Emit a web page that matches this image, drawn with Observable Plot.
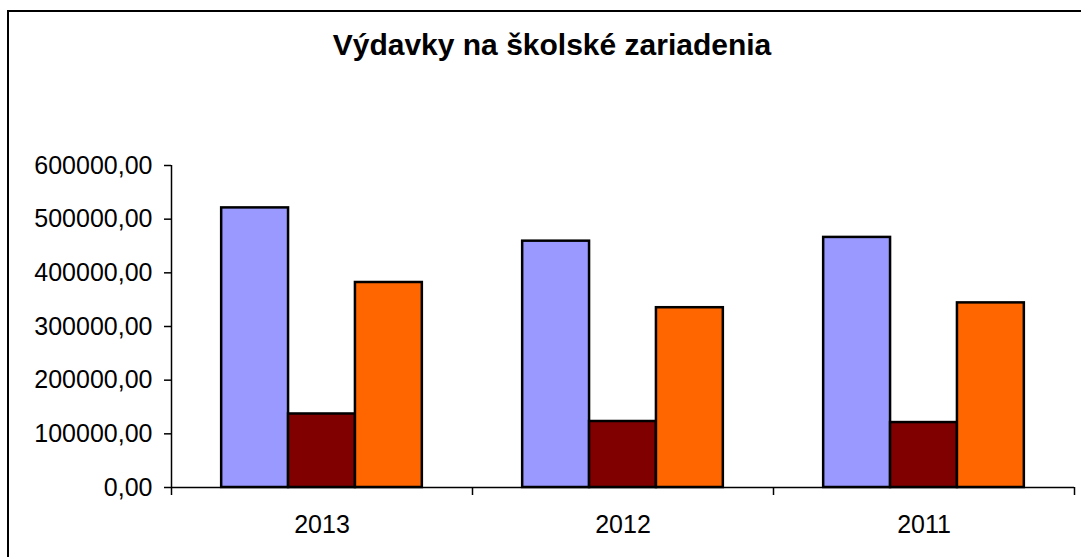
<!DOCTYPE html>
<html>
<head>
<meta charset="utf-8">
<script src="https://cdn.jsdelivr.net/npm/d3@7"></script>
<script src="https://cdn.jsdelivr.net/npm/@observablehq/plot@0.6"></script>
<style>
  html, body { margin: 0; padding: 0; background: #fff; }
  #wrap { position: relative; width: 1081px; height: 557px; overflow: hidden; }
  #frame { position: absolute; left: 7px; top: 10px; width: 1100px; height: 600px;
           border-left: 2px solid #000; border-top: 2px solid #000; }
  #title { position: absolute; left: 0; top: 28px; width: 1104px; text-align: center;
           font-family: "Liberation Sans", Arial, sans-serif; font-weight: bold; font-size: 30px; color: #000; }
  #chart { position: absolute; left: 0; top: 0; }
  #chart svg text { font-family: "Liberation Sans", Arial, sans-serif; font-size: 25px; fill: #000; }
</style>
</head>
<body>
<div id="wrap">
  <div id="frame"></div>
  <div id="title">Výdavky na školské zariadenia</div>
  <div id="chart"></div>
</div>
<script>
const years = ["2013", "2012", "2011"];
const seriesNames = ["séria 1", "séria 2", "séria 3"];
const series1 = [521000, 459000, 466000];
const series2 = [137000, 123000, 121000];
const series3 = [382000, 335000, 344000];
const seriesColors = ["#9999FF", "#800000", "#FF6600"];
const yTicks = [0, 100000, 200000, 300000, 400000, 500000, 600000];

const allSeries = [series1, series2, series3];
const rows = [];
years.forEach((yr, gi) => {
  allSeries.forEach((s, si) => {
    rows.push({year: yr, gi, si, series: seriesNames[si], value: s[gi]});
  });
});

// layout within each category band (fractions of one band)
const outerPad = 1 / 6;
const barW = 2 / 9;

const fmt = d => d.toFixed(2).replace(".", ",");

const plot = Plot.plot({
  width: 1081,
  height: 557,
  marginLeft: 171,
  marginRight: 7,
  marginTop: 165,
  marginBottom: 70,
  style: {background: "transparent", overflow: "visible"},
  x: {domain: [0, years.length]},
  y: {domain: [0, 600000]},
  color: {domain: seriesNames, range: seriesColors},
  marks: [
    Plot.rectY(rows, {
      x1: d => d.gi + outerPad + d.si * barW,
      x2: d => d.gi + outerPad + (d.si + 1) * barW,
      y1: 0,
      y2: "value",
      fill: "series",
      stroke: "#000",
      strokeWidth: 2.5
    }),
    Plot.ruleY([0], {stroke: "#000", strokeWidth: 1.5}),
    Plot.ruleX([0], {stroke: "#000", strokeWidth: 1.5}),
    Plot.axisY({ticks: yTicks, tickFormat: fmt, tickSize: 7, tickPadding: 12, label: null, stroke: "#000", strokeWidth: 1.5}),
    Plot.axisX({ticks: d3.range(years.length + 1), tickFormat: () => "", tickSize: 8, label: null, stroke: "#000", strokeWidth: 1.5}),
    Plot.axisX({ticks: years.map((_, i) => i + 0.5), tickFormat: v => years[Math.floor(v)], tickSize: 0, tickPadding: 28, label: null})
  ]
});
document.getElementById("chart").appendChild(plot);
</script>
</body>
</html>
